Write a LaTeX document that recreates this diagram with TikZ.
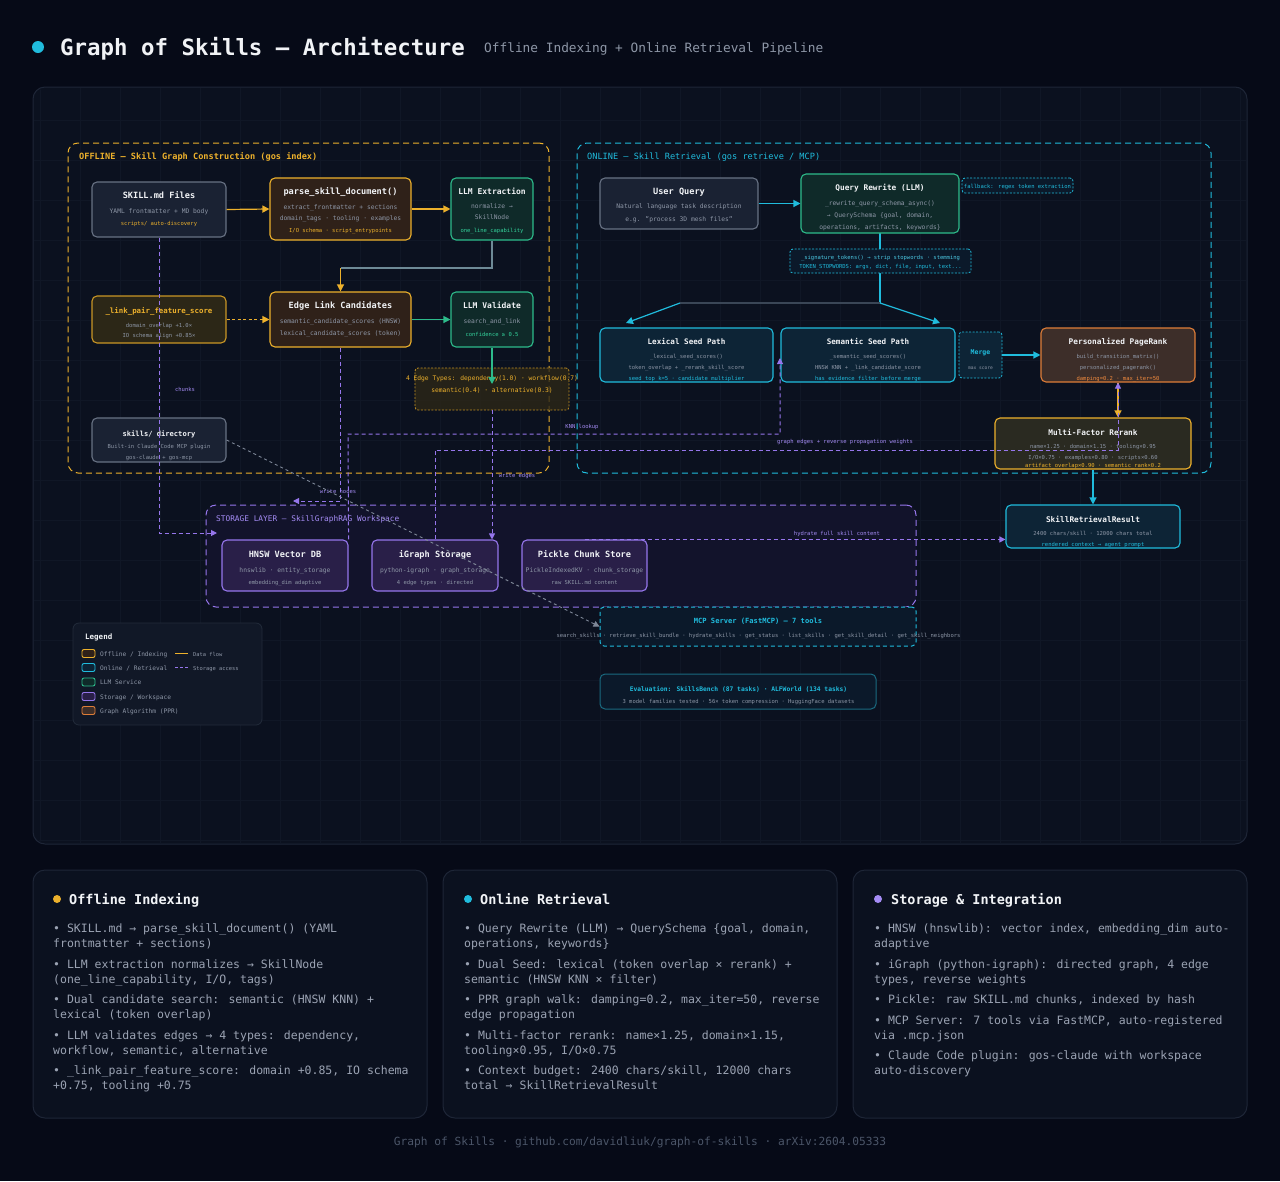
\documentclass[tikz,border=0pt]{standalone}
\usepackage{fontspec}
\setmainfont{DejaVu Sans Mono}
\usetikzlibrary{arrows.meta,calc}
\definecolor{bgc}{HTML}{060A17}
\definecolor{panelc}{HTML}{0B111F}
\definecolor{panelb}{HTML}{1E2637}
\definecolor{gridc}{HTML}{101726}
\definecolor{whitec}{HTML}{F1F3F6}
\definecolor{grayt}{HTML}{8E97A7}
\definecolor{bult}{HTML}{9BA3B3}
\definecolor{foot}{HTML}{4B5568}
\definecolor{ambc}{HTML}{EDB12C}
\definecolor{grnc}{HTML}{2DBB8B}
\definecolor{grnt}{HTML}{34D39C}
\definecolor{cync}{HTML}{20BCDD}
\definecolor{purc}{HTML}{9676EC}
\definecolor{purt}{HTML}{A58CF5}
\definecolor{orgc}{HTML}{DE7D38}
\definecolor{orgt}{HTML}{F08A3E}
\definecolor{grayb}{HTML}{687284}
\definecolor{slate}{HTML}{6E8A96}
\definecolor{slate2}{HTML}{3A4656}
\definecolor{diag}{HTML}{7E8797}
\definecolor{fillgray}{HTML}{1A2233}
\definecolor{fillamb}{HTML}{2F2119}
\definecolor{fillolive}{HTML}{2C2717}
\definecolor{fillgrn}{HTML}{0F2A29}
\definecolor{fillcyn}{HTML}{0D2436}
\definecolor{fillppr}{HTML}{3D2E29}
\definecolor{fillmf}{HTML}{2A2A21}
\definecolor{fillpur}{HTML}{291F48}
\definecolor{fillstor}{HTML}{12132B}
\definecolor{fillmcp}{HTML}{0B192A}
\definecolor{legfill}{HTML}{111827}
\definecolor{legb}{HTML}{222B3A}
\definecolor{evalb}{HTML}{1A6A80}
\newcommand\gsfont[1]{\fontsize{#1}{#1}\selectfont}
\newcommand\gsbox[6]{\node[#1, minimum width={#5-#3}, minimum height={#6-#4}] (#2) at ({(#3+#5)/2},{(#4+#6)/2}) {};}
\begin{document}
\begin{tikzpicture}[x=1pt,y=-1pt,
  nbox/.style={draw, rounded corners=5pt, line width=1.1pt, inner sep=0pt},
  graybox/.style={nbox, draw=grayb, fill=fillgray},
  ambbox/.style={nbox, draw=ambc, fill=fillamb},
  olivebox/.style={nbox, draw=ambc!85!black, fill=fillolive},
  grnbox/.style={nbox, draw=grnc, fill=fillgrn},
  cynbox/.style={nbox, draw=cync, fill=fillcyn},
  pprbox/.style={nbox, draw=orgc, fill=fillppr},
  mfbox/.style={nbox, draw=ambc, fill=fillmf},
  purbox/.style={nbox, draw=purc, fill=fillpur},
  dotbox/.style={draw, rounded corners=3pt, line width=0.8pt, dash pattern=on 2pt off 1.5pt, inner sep=0pt},
  cont/.style={draw, rounded corners=10pt, line width=1pt, dash pattern=on 6pt off 4pt, inner sep=0pt},
  ttl/.style={inner sep=0pt, anchor=mid, text=whitec, font=\gsfont{8.6}\bfseries},
  sub/.style={inner sep=0pt, anchor=mid, text=grayt, font=\gsfont{6.3}},
  tny/.style={inner sep=0pt, anchor=mid, text=grayt, font=\gsfont{5.5}},
  lbl/.style={inner sep=0pt, anchor=mid, text=purt, font=\gsfont{5.5}},
  lgt/.style={inner sep=0pt, anchor=mid west, text=grayt, font=\gsfont{6.2}},
  bul/.style={inner sep=0pt, anchor=mid west, text=bult, font=\gsfont{11.5}},
  ptitle/.style={inner sep=0pt, anchor=mid west, text=whitec, font=\gsfont{13.5}\bfseries},
  flow/.style={line width=1.2pt, -{Triangle[length=7pt,width=7pt]}},
  sto/.style={draw=purc, line width=1pt, dash pattern=on 4pt off 3pt, -{Triangle[length=6pt,width=6pt]}},
  sw/.style={draw, rounded corners=2pt, line width=0.9pt, minimum width=13, minimum height=8, inner sep=0pt}
]
\useasboundingbox (0,0) rectangle (1280,1181);
\fill[bgc] (0,0) rectangle (1280,1181);

% ---------- header ----------
\node[circle, fill=cync, minimum size=12, inner sep=0pt] (tdot) at (38,47) {};
\node[inner sep=0pt, anchor=mid west, text=whitec, font=\gsfont{22.4}\bfseries] (title) at (60,53) {Graph of Skills — Architecture};
\node[inner sep=0pt, anchor=mid west, text=grayt, font=\gsfont{12.8}] (subtitle) at (484,50) {Offline Indexing + Online Retrieval Pipeline};

% ---------- main panel ----------
\node[draw=panelb, fill=panelc, rounded corners=12pt, line width=1pt, minimum width=1214, minimum height=757, inner sep=0pt] (mainp) at (640,465.5) {};
\begin{scope}
\clip[rounded corners=12pt] (34,88) rectangle (1246,843);
\foreach \gx in {40,80,...,1240} { \draw[gridc, line width=0.6pt] (\gx,87) -- (\gx,844); }
\foreach \gy in {120,160,...,840} { \draw[gridc, line width=0.6pt] (33,\gy) -- (1247,\gy); }
\end{scope}

% containers
\gsbox{cont, draw=ambc}{offc}{68}{143}{549}{473}
\node[inner sep=0pt, anchor=mid west, text=ambc, font=\gsfont{8.6}\bfseries] (offlbl) at (79,157) {OFFLINE — Skill Graph Construction (gos index)};
\gsbox{cont, draw=cync}{onc}{577}{143}{1211}{473}
\node[inner sep=0pt, anchor=mid west, text=cync, font=\gsfont{8.6}] (onlbl) at (587,157) {ONLINE — Skill Retrieval (gos retrieve / MCP)};
\gsbox{cont, draw=purc, fill=fillstor}{stor}{206}{505}{916}{607}
\node[inner sep=0pt, anchor=mid west, text=purt, font=\gsfont{7.8}] (storlbl) at (216,519) {STORAGE LAYER — SkillGraphRAG Workspace};

% connector drawn under the signature box
\draw[cync, line width=1.2pt] (880,233) -- (880,303);

% ---------- offline nodes ----------
\gsbox{graybox}{skillmd}{92}{182}{226}{237}
\node[ttl] (skillmd-t) at (159,196) {SKILL.md Files};
\node[sub] (skillmd-a) at (159,211) {YAML frontmatter + MD body};
\node[tny, text=ambc] (skillmd-b) at (159,223) {scripts/ auto-discovery};

\gsbox{ambbox}{parse}{270}{178}{411}{240}
\node[ttl] (parse-t) at (340.5,192) {parse\_skill\_document()};
\node[sub] (parse-a) at (340.5,207) {extract\_frontmatter + sections};
\node[sub] (parse-b) at (340.5,218) {domain\_tags · tooling · examples};
\node[tny, text=ambc] (parse-c) at (340.5,230) {I/O schema · script\_entrypoints};

\gsbox{grnbox}{llmx}{451}{178}{533}{240}
\node[ttl, font=\gsfont{8}\bfseries] (llmx-t) at (492,192) {LLM Extraction};
\node[sub] (llmx-a) at (492,206) {normalize →};
\node[sub] (llmx-b) at (492,217) {SkillNode};
\node[tny, text=grnt] (llmx-c) at (492,230) {one\_line\_capability};

\gsbox{olivebox}{lpfs}{92}{296}{226}{343}
\node[ttl, text=ambc, font=\gsfont{7.4}\bfseries] (lpfs-t) at (159,311) {\_link\_pair\_feature\_score};
\node[tny] (lpfs-a) at (159,325) {domain\_overlap +1.0×};
\node[tny] (lpfs-b) at (159,335) {IO schema align +0.85×};

\gsbox{ambbox}{elc}{270}{292}{411}{347}
\node[ttl] (elc-t) at (340.5,306) {Edge Link Candidates};
\node[sub] (elc-a) at (340.5,321) {semantic\_candidate\_scores (HNSW)};
\node[sub] (elc-b) at (340.5,333) {lexical\_candidate\_scores (token)};

\gsbox{grnbox}{llmv}{451}{292}{533}{347}
\node[ttl, font=\gsfont{8}\bfseries] (llmv-t) at (492,306) {LLM Validate};
\node[sub] (llmv-a) at (492,321) {search\_and\_link};
\node[tny, text=grnt] (llmv-b) at (492,334) {confidence ≥ 0.5};

\gsbox{dotbox, draw=ambc!80!black, fill=fillolive, fill opacity=0.8}{etypes}{415}{368}{569}{410}
\node[sub, text=ambc] (etypes-a) at (492,378) {4 Edge Types: dependency(1.0) · workflow(0.7)};
\node[sub, text=ambc] (etypes-b) at (492,390) {semantic(0.4) · alternative(0.3)};

\gsbox{graybox}{skdir}{92}{418}{226}{462}
\node[ttl, font=\gsfont{7.1}\bfseries] (skdir-t) at (159,434) {skills/ directory};
\node[tny] (skdir-a) at (159,446) {Built-in Claude Code MCP plugin};
\node[tny] (skdir-b) at (159,457) {gos-claude + gos-mcp};

% ---------- online nodes ----------
\gsbox{graybox}{uq}{600}{178}{758}{229}
\node[ttl] (uq-t) at (679,192) {User Query};
\node[sub] (uq-a) at (679,206) {Natural language task description};
\node[sub] (uq-b) at (679,219) {e.g. "process 3D mesh files"};

\gsbox{grnbox}{qr}{801}{174}{959}{233}
\node[ttl, font=\gsfont{7.8}\bfseries] (qr-t) at (880,188) {Query Rewrite (LLM)};
\node[sub] (qr-a) at (880,203) {\_rewrite\_query\_schema\_async()};
\node[sub] (qr-b) at (880,215) {→ QuerySchema \{goal, domain,};
\node[sub] (qr-c) at (880,227) {operations, artifacts, keywords\}};

\gsbox{dotbox, draw=cync, fill=fillmcp}{fallback}{962}{178}{1073}{193}
\node[tny, text=cync] (fallback-t) at (1017.5,186) {fallback: regex token extraction};

\gsbox{dotbox, draw=cync, fill=fillmcp}{sig}{790}{249}{971}{273}
\node[tny, text=cync!80!white] (sig-a) at (880.5,257) {\_signature\_tokens() → strip stopwords · stemming};
\node[tny, text=cync] (sig-b) at (880.5,266) {TOKEN\_STOPWORDS: args, dict, file, input, text...};

\gsbox{cynbox}{lex}{600}{328}{773}{382}
\node[ttl, font=\gsfont{7.6}\bfseries] (lex-t) at (686.5,342) {Lexical Seed Path};
\node[tny] (lex-a) at (686.5,356) {\_lexical\_seed\_scores()};
\node[tny] (lex-b) at (686.5,367) {token\_overlap + \_rerank\_skill\_score};
\node[tny, text=cync] (lex-c) at (686.5,378) {seed\_top\_k=5 · candidate multiplier};

\gsbox{cynbox}{sem}{781}{328}{955}{382}
\node[ttl, font=\gsfont{7.6}\bfseries] (sem-t) at (868,342) {Semantic Seed Path};
\node[tny] (sem-a) at (868,356) {\_semantic\_seed\_scores()};
\node[tny] (sem-b) at (868,367) {HNSW KNN + \_link\_candidate\_score};
\node[tny, text=cync] (sem-c) at (868,378) {has\_evidence filter before merge};

\gsbox{dotbox, draw=cync, fill=fillcyn}{merge}{959}{332}{1002}{378}
\node[ttl, text=cync, font=\gsfont{6.5}\bfseries] (merge-t) at (980.5,352) {Merge};
\node[tny, font=\gsfont{4.6}] (merge-a) at (980.5,367) {max score};

\gsbox{pprbox}{ppr}{1041}{328}{1195}{382}
\node[ttl, font=\gsfont{7.8}\bfseries] (ppr-t) at (1118,342) {Personalized PageRank};
\node[tny] (ppr-a) at (1118,356) {build\_transition\_matrix()};
\node[tny] (ppr-b) at (1118,367) {personalized\_pagerank()};
\node[tny, text=orgt] (ppr-c) at (1118,378) {damping=0.2 · max\_iter=50};

\gsbox{mfbox}{mfr}{995}{418}{1191}{469}
\node[ttl, font=\gsfont{7.8}\bfseries] (mfr-t) at (1093,433) {Multi-Factor Rerank};
\node[tny] (mfr-a) at (1093,446) {name×1.25 · domain×1.15 · tooling×0.95};
\node[tny] (mfr-b) at (1093,456.5) {I/O×0.75 · examples×0.80 · scripts×0.60};
\node[tny, text=ambc] (mfr-c) at (1093,465) {artifact\_overlap×0.90 · semantic\_rank×0.2};

\gsbox{cynbox}{res}{1006}{505}{1180}{548}
\node[ttl, font=\gsfont{7.8}\bfseries] (res-t) at (1093,520) {SkillRetrievalResult};
\node[tny] (res-a) at (1093,533) {2400 chars/skill · 12000 chars total};
\node[tny, text=cync] (res-b) at (1093,544) {rendered\_context → agent prompt};

% ---------- storage nodes ----------
\gsbox{purbox}{hnsw}{222}{540}{348}{591}
\node[ttl] (hnsw-t) at (285,555) {HNSW Vector DB};
\node[sub] (hnsw-a) at (285,570) {hnswlib · entity\_storage};
\node[tny] (hnsw-b) at (285,582) {embedding\_dim adaptive};

\gsbox{purbox}{igraph}{372}{540}{498}{591}
\node[ttl] (igraph-t) at (435,555) {iGraph Storage};
\node[sub] (igraph-a) at (435,570) {python-igraph · graph\_storage};
\node[tny] (igraph-b) at (435,582) {4 edge types · directed};

\gsbox{purbox}{pickle}{522}{540}{647}{591}
\node[ttl] (pickle-t) at (584.5,555) {Pickle Chunk Store};
\node[sub] (pickle-a) at (584.5,570) {PickleIndexedKV · chunk\_storage};
\node[tny] (pickle-b) at (584.5,582) {raw SKILL.md content};

% ---------- MCP + evaluation ----------
\gsbox{cont, rounded corners=4pt, dash pattern=on 4pt off 3pt, draw=cync, fill=fillmcp}{mcp}{600}{607}{916}{646}
\node[ttl, text=cync, font=\gsfont{7.1}\bfseries] (mcp-t) at (758,620.5) {MCP Server (FastMCP) — 7 tools};
\node[tny] (mcp-a) at (758.5,634.5) {search\_skills · retrieve\_skill\_bundle · hydrate\_skills · get\_status · list\_skills · get\_skill\_detail · get\_skill\_neighbors};

\gsbox{nbox, rounded corners=5pt, line width=1pt, draw=evalb, fill=fillmcp}{evalbox}{600}{674}{876}{709}
\node[ttl, text=cync, font=\gsfont{6.3}\bfseries] (eval-t) at (738.5,688.5) {Evaluation: SkillsBench (87 tasks) · ALFWorld (134 tasks)};
\node[tny] (eval-a) at (738.5,701) {3 model families tested · 56× token compression · HuggingFace datasets};

% ---------- legend ----------
\gsbox{nbox, rounded corners=6pt, line width=0.8pt, draw=legb, fill=legfill}{legend}{73}{623}{262}{725}
\node[inner sep=0pt, anchor=mid west, text=whitec, font=\gsfont{7.5}\bfseries] (leg-t) at (85,637) {Legend};
\node[sw, draw=ambc, fill=fillamb] (sw1) at (88.5,653.5) {};
\node[sw, draw=cync, fill=fillcyn] (sw2) at (88.5,667.5) {};
\node[sw, draw=grnc, fill=fillgrn] (sw3) at (88.5,682) {};
\node[sw, draw=purc, fill=fillpur] (sw4) at (88.5,696.5) {};
\node[sw, draw=orgc, fill=fillppr] (sw5) at (88.5,710.5) {};
\node[lgt] (lg1) at (100,653.5) {Offline / Indexing};
\node[lgt] (lg2) at (100,667.5) {Online / Retrieval};
\node[lgt] (lg3) at (100,682) {LLM Service};
\node[lgt] (lg4) at (100,696.5) {Storage / Workspace};
\node[lgt] (lg5) at (100,710.5) {Graph Algorithm (PPR)};
\coordinate (df1) at (175,653.5); \coordinate (df2) at (188,653.5);
\coordinate (sa1) at (175,667.5); \coordinate (sa2) at (188,667.5);
\draw[draw=ambc, line width=1.6pt] (df1) -- (df2);
\draw[draw=purc, line width=1.6pt, dash pattern=on 3pt off 2pt] (sa1) -- (sa2);
\node[lgt, font=\gsfont{5.4}] (lg6) at (193,653.5) {Data flow};
\node[lgt, font=\gsfont{5.4}] (lg7) at (193,667.5) {Storage access};

% ---------- connectors ----------
\draw[flow, ambc] (skillmd.east) -- (parse.west);
\draw[flow, ambc] (parse.east) -- (llmx.west);
\coordinate (j1) at (492,268); \coordinate (j2) at (340.5,268);
\draw[slate, line width=1.2pt] (llmx.south) -- (j1) -- (j2);
\draw[flow, ambc] (j2) -- (elc.north);
\draw[flow, ambc, dash pattern=on 3pt off 2.5pt] (lpfs.east) -- (elc.west);
\draw[flow, grnc] (elc.east) -- (llmv.west);
\coordinate (etip) at (492,384);
\draw[flow, grnc] (llmv.south) -- (etip);

% storage access
\coordinate (ch1) at (159,533); \coordinate (ch2) at (217,533);
\draw[sto] (skillmd.south) -- (ch1) -- (ch2);
\node[lbl] (chunks) at (185,389) {chunks};
\coordinate (wn1) at (340.5,501); \coordinate (wn2) at (293,501);
\draw[sto] (elc.south) -- (wn1) -- (wn2);
\node[lbl] (wnlbl) at (338,491) {write nodes};
\draw[sto] (etypes.south) -- (etypes.south |- igraph.north);
\node[lbl] (welbl) at (517,475) {write edges};
\coordinate (k1) at (348,434); \coordinate (k2) at (780,434); \coordinate (k3) at (780,358);
\draw[sto] (hnsw.north east) -- (k1) -- (k2) -- (k3);
\node[lbl] (knnlbl) at (582,426) {KNN lookup};
\draw[flow, ambc] (ppr.south) -- (ppr.south |- mfr.north);
\coordinate (g1) at (435,450); \coordinate (g2) at (1118,450);
\draw[sto] (igraph.north) -- (g1) -- (g2) -- (ppr.south);
\node[lbl] (gelbl) at (845,441) {graph edges + reverse propagation weights};
\draw[sto] (pickle.north) -- (pickle.north -| res.west);
\node[lbl] (hylbl) at (837,533) {hydrate full skill content};
\draw[diag, line width=0.9pt, dash pattern=on 3pt off 3pt, -{Triangle[length=6pt,width=6pt]}] (skdir.east) -- (mcp.west);

% online flows
\draw[flow, cync] (uq.east) -- (qr.west |- uq.east);
\coordinate (s1) at (680,303); \coordinate (s2) at (880,303);
\coordinate (lextip) at (626,323); \coordinate (semtip) at (940,323);
\draw[slate2, line width=1.4pt] (s1) -- (s2);
\draw[flow, cync] (s1) -- (lextip);
\draw[flow, cync] (s2) -- (semtip);
\draw[flow, cync] (merge.east) -- (ppr.west |- merge.east);
\draw[flow, cync] (mfr.south) -- (res.north);

% ---------- bottom panels ----------
\gsbox{nbox, rounded corners=12pt, line width=1pt, draw=panelb, fill=panelc}{pane1}{33}{870}{427}{1118}
\gsbox{nbox, rounded corners=12pt, line width=1pt, draw=panelb, fill=panelc}{pane2}{443}{870}{837}{1118}
\gsbox{nbox, rounded corners=12pt, line width=1pt, draw=panelb, fill=panelc}{pane3}{853}{870}{1247}{1118}

\node[circle, fill=ambc, minimum size=8, inner sep=0pt] (d1) at (57,899) {};
\node[ptitle] (p1t) at (69,902) {Offline Indexing};
\node[bul] (p1a) at (53,930) {• SKILL.md → parse\_skill\_document() (YAML};
\node[bul] (p1b) at (53,945) {frontmatter + sections)};
\node[bul] (p1c) at (53,966) {• LLM extraction normalizes → SkillNode};
\node[bul] (p1d) at (53,981) {(one\_line\_capability, I/O, tags)};
\node[bul] (p1e) at (53,1001) {• Dual candidate search: semantic (HNSW KNN) +};
\node[bul] (p1f) at (53,1016) {lexical (token overlap)};
\node[bul] (p1g) at (53,1037) {• LLM validates edges → 4 types: dependency,};
\node[bul] (p1h) at (53,1052) {workflow, semantic, alternative};
\node[bul] (p1i) at (53,1072) {• \_link\_pair\_feature\_score: domain +0.85, IO schema};
\node[bul] (p1j) at (53,1087) {+0.75, tooling +0.75};

\node[circle, fill=cync, minimum size=8, inner sep=0pt] (d2) at (468,899) {};
\node[ptitle] (p2t) at (480,902) {Online Retrieval};
\node[bul] (p2a) at (464,930) {• Query Rewrite (LLM) → QuerySchema \{goal, domain,};
\node[bul] (p2b) at (464,945) {operations, keywords\}};
\node[bul] (p2c) at (464,966) {• Dual Seed: lexical (token overlap × rerank) +};
\node[bul] (p2d) at (464,981) {semantic (HNSW KNN × filter)};
\node[bul] (p2e) at (464,1001) {• PPR graph walk: damping=0.2, max\_iter=50, reverse};
\node[bul] (p2f) at (464,1016) {edge propagation};
\node[bul] (p2g) at (464,1037) {• Multi-factor rerank: name×1.25, domain×1.15,};
\node[bul] (p2h) at (464,1052) {tooling×0.95, I/O×0.75};
\node[bul] (p2i) at (464,1072) {• Context budget: 2400 chars/skill, 12000 chars};
\node[bul] (p2j) at (464,1087) {total → SkillRetrievalResult};

\node[circle, fill=purt, minimum size=8, inner sep=0pt] (d3) at (878,899) {};
\node[ptitle] (p3t) at (891,902) {Storage \& Integration};
\node[bul] (p3a) at (874,930) {• HNSW (hnswlib): vector index, embedding\_dim auto-};
\node[bul] (p3b) at (874,945) {adaptive};
\node[bul] (p3c) at (874,966) {• iGraph (python-igraph): directed graph, 4 edge};
\node[bul] (p3d) at (874,981) {types, reverse weights};
\node[bul] (p3e) at (874,1001) {• Pickle: raw SKILL.md chunks, indexed by hash};
\node[bul] (p3f) at (874,1022) {• MCP Server: 7 tools via FastMCP, auto-registered};
\node[bul] (p3g) at (874,1037) {via .mcp.json};
\node[bul] (p3h) at (874,1057) {• Claude Code plugin: gos-claude with workspace};
\node[bul] (p3i) at (874,1072) {auto-discovery};

\node[inner sep=0pt, anchor=mid, text=foot, font=\gsfont{11.2}] (footer) at (640,1143) {Graph of Skills · github.com/davidliuk/graph-of-skills · arXiv:2604.05333};
\end{tikzpicture}
\end{document}
